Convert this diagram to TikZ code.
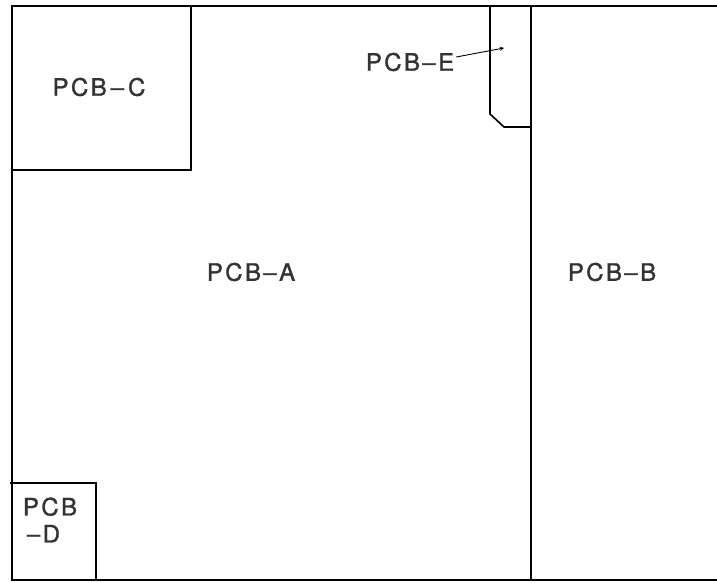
\documentclass[tikz,border=0pt]{standalone}
\usepackage{fontspec}
\setmainfont{TeX Gyre Heros}
\newfontfamily\pcbfont[LetterSpace=10,FakeBold=1.3]{TeX Gyre Heros}
\usetikzlibrary{positioning}

\begin{document}
\begin{tikzpicture}[x=1pt,y=-1pt,line width=1.6pt,
        board/.style={font=\pcbfont\fontsize{24}{27}\selectfont,text=black!80},
        lead/.style={->,line width=0.9pt,>=stealth}]
        \useasboundingbox (0,0) rectangle (717,583);
        % outline and boards
        \draw (717,6) -- (12,6) -- (12,580) -- (717,580);
        \draw (531,6) -- (531,580);
        \draw (12,170) -- (191,170) -- (191,6);
        \draw (10,483) -- (96,483) -- (96,580);
        \draw (490,6) -- (490,114) -- (504,127) -- (531,127);
        % labels
        \node[board] (pcbC) at (99,87) {PCB\,–\,C};
        \node[board] (pcbA) at (251,272) {PCB–A};
        \node[board] (pcbB) at (612,272) {PCB–B};
        \node[board] (pcbE) at (410,62) {PCB–E};
        \node[board,align=left] (pcbD) at (50,520) {PCB\\\,–D};
        \coordinate (pcbEtip) at (504,48);
        \draw[lead] (pcbE.east) ++(-2,-5) -- (pcbEtip);
\end{tikzpicture}
\end{document}
